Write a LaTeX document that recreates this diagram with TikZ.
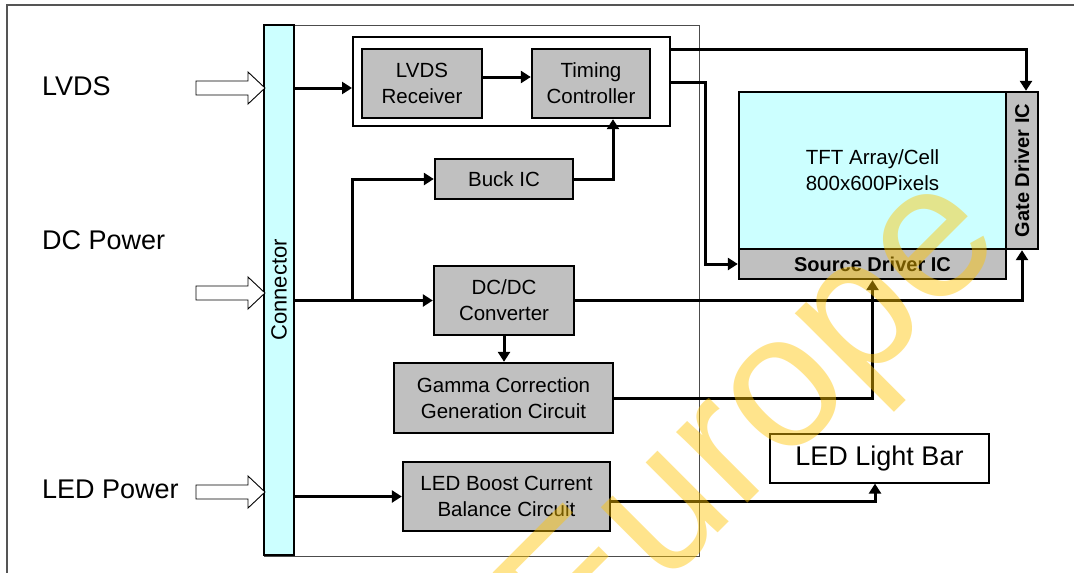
\documentclass[tikz,border=0pt]{standalone}
\usepackage{fontspec}
\setmainfont{Liberation Sans}
\usetikzlibrary{arrows.meta}
\definecolor{boxgray}{HTML}{C0C0C0}
\definecolor{lcyan}{HTML}{CCFFFF}
\definecolor{wmyellow}{HTML}{FFC400}
\definecolor{framegray}{HTML}{555555}
\begin{document}
\begin{tikzpicture}[x=1pt,y=-1pt,
  blk/.style={draw, line width=2.4pt, fill=boxgray, inner sep=0pt, align=center,
    font=\fontsize{20.5}{26}\selectfont},
  bigtxt/.style={inner sep=0pt, font=\fontsize{27}{30}\selectfont},
  arr/.style={line width=3pt, -{Triangle[length=10pt,width=12pt]}},
  hollow/.style={draw, line width=0.9pt, fill=white},
]
\useasboundingbox (0,0) rectangle (1074,573);
\fill[white] (0,0) rectangle (1074,573);
% frame
\draw[framegray, line width=1.6pt] (7,573) -- (7,5) -- (1074,5);

% board outline
\node[draw=black!70, line width=1pt, minimum width=435pt, minimum height=531pt, inner sep=0pt] (board) at (481.5,290.5) {};

% connector
\node[draw, line width=2.4pt, fill=lcyan, rotate=90, minimum width=530pt, minimum height=30pt,
  inner sep=0pt, font=\fontsize{22}{24}\selectfont] (conn) at (279,290) {Connector};

% input labels
\node[bigtxt, anchor=west] (lvds) at (42,86) {LVDS};
\node[bigtxt, anchor=west] (dcp) at (42,240) {DC Power};
\node[bigtxt, anchor=west] (ledp) at (42,489) {LED Power};

% hollow input arrows
\draw[hollow] (196,81) -- (248,81) -- (248,72) -- (265,88) -- (248,104) -- (248,95) -- (196,95) -- cycle;
\draw[hollow] (196,286) -- (248,286) -- (248,277) -- (265,293) -- (248,309) -- (248,300) -- (196,300) -- cycle;
\draw[hollow] (196,485) -- (248,485) -- (248,476) -- (265,492) -- (248,508) -- (248,499) -- (196,499) -- cycle;

% LVDS group
\node[draw, line width=2pt, fill=white, minimum width=317pt, minimum height=89pt, inner sep=0pt] (grp) at (511.5,81.5) {};
\node[blk, minimum width=120pt, minimum height=69pt] (rx) at (422,83.5) {LVDS\\Receiver};
\node[blk, minimum width=118pt, minimum height=69pt] (tc) at (591,83.5) {Timing\\Controller};

\node[blk, minimum width=138pt, minimum height=40pt] (buck) at (504,179) {Buck IC};
\node[blk, minimum width=140pt, minimum height=69pt] (dcdc) at (504,300.5) {DC/DC\\Converter};
\node[blk, minimum width=219pt, minimum height=70pt] (gamma) at (503.5,398) {Gamma Correction\\Generation Circuit};
\node[blk, minimum width=207pt, minimum height=69pt] (boost) at (506.5,496.5) {LED Boost Current\\Balance Circuit};

% panel
\node[draw, line width=2.4pt, fill=lcyan, minimum width=267pt, minimum height=157pt, inner sep=0pt,
  align=center, font=\fontsize{20.5}{26}\selectfont] (tft) at (872.5,170.5) {TFT Array/Cell\\800x600Pixels};
\node[draw, line width=2.4pt, fill=boxgray, minimum width=267pt, minimum height=30pt, inner sep=0pt,
  font=\bfseries\fontsize{20}{24}\selectfont] (src) at (872.5,264) {Source Driver IC};
\node[draw, line width=2.4pt, fill=boxgray, rotate=90, minimum width=157pt, minimum height=32pt, inner sep=0pt,
  font=\bfseries\fontsize{20}{24}\selectfont] (gate) at (1022,170.5) {Gate Driver IC};

\node[draw, line width=1.2pt, minimum width=219pt, minimum height=49pt, inner sep=0pt,
  font=\fontsize{27}{30}\selectfont] (led) at (879.5,458.5) {LED Light Bar};

% connectors
\draw[arr] (conn.south |- 0,88) -- (grp.west |- 0,88);
\draw[arr] (rx.east |- 0,77) -- (tc.west |- 0,77);
\draw[arr] (grp.east |- 0,49) -| ([xshift=4pt]gate.east);
\draw[arr] (grp.east |- 0,82) -- (705,82) |- (src.west);
\coordinate (br) at (352,300.5);
\draw[arr] (conn.south |- dcdc.west) -- (dcdc.west);
\draw[arr] (br) |- (buck.west);
\draw[arr] (buck.east) -| (tc.south -| 613,0);
\draw[arr] (dcdc.south) -- (dcdc.south |- gamma.north);
\draw[arr] (dcdc.east) -| (gate.west);
\draw[arr] (gamma.east) -| (src.south);
\draw[arr] (conn.south |- boost.west) -- (boost.west);
\draw[arr] (boost.east |- 0,501) -| (led.south -| 875,0);

% watermark
\begin{scope}
\clip (0,0) rectangle (1074,573);
\node[rotate=45, anchor=base west, inner sep=0pt, text=wmyellow, text opacity=0.45,
  font=\fontsize{190}{190}\selectfont] (wmark) at (574,677) {Europe};
\end{scope}
\end{tikzpicture}
\end{document}
